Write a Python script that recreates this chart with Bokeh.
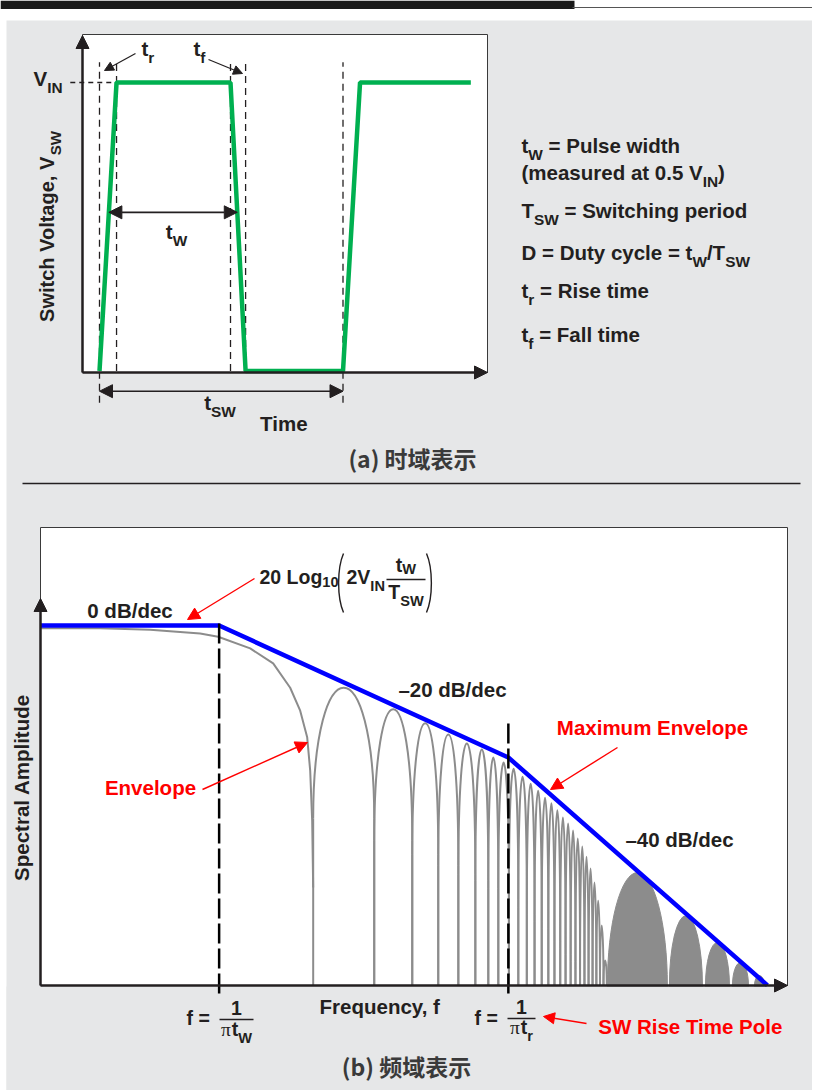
import math
from bokeh.plotting import figure
from bokeh.models import Range1d, LogScale, Arrow, NormalHead
from bokeh.core.properties import value
from bokeh.embed import file_html
from bokeh.resources import INLINE

# ---------------- (a) time domain data (time / T_SW, voltage / V_IN) ----------------
wave_t = [0.0, 0.070, 0.538, 0.600, 1.0, 1.070, 1.525]
wave_v = [0.0, 1.0, 1.0, 0.0, 0.0, 1.0, 1.0]

# ---------------- (b) frequency domain data (f / f1, f1 = 1/(pi tW); amplitude in dB) ----------------
env_f = [0.134, 1.0, 25.7, 471.0]
env_db = [0.0, 0.0, -28.2, -76.9]

main_f = [0.134, 0.263, 0.461, 0.808, 0.989, 1.417, 1.834, 2.220, 2.484, 2.687, 2.779, 2.842, 2.874]
main_db = [-0.6, -0.6, -0.9, -1.7, -2.4, -4.9, -8.1, -13.3, -18.2, -23.9, -31.0, -41.7, -56.0]

lobe_null_f = [2.874, 5.703, 8.739, 11.70, 14.66, 17.74, 20.52, 22.96, 25.86,
               28.74, 31.62, 34.49, 37.38, 40.26, 43.12, 46.02, 48.85, 51.72,
               54.59, 57.48, 60.40, 63.24, 66.15, 69.03, 71.89, 74.77, 77.61]
lobe_peak_db = [-13.3, -17.9, -20.9, -23.3, -25.2, -26.5, -28.2, -29.3,
                -30.6, -32.3, -33.8, -35.3, -36.8, -38.0, -39.5, -41.0, -42.3,
                -43.8, -45.5, -47.2, -49.4, -51.9, -54.9, -58.8, -64.1, -71.6]

hump_left_f = [78.1, 156.7, 234.9, 318.1, 407.2]
hump_right_f = [153.2, 227.1, 307.5, 380.6, 455.5]
hump_peak_db = [-52.8, -62.0, -67.7, -72.0, -74.8]

# ---------------- layout ----------------
W, H = 812, 1090
PX0, PX1, PY0, PY1 = 0, W, 0, H
T0_PX, PX_PER_T = 99.0, 243.5
V0_PY, PX_PER_V = 370.5, 288.5
F1_PX, PX_PER_DEC = 219.0, 205.0
DB0_PY, PX_PER_DB = 625.0, 4.68
AXIS_B_PY = 985.0
FLOOR_DB = (DB0_PY - AXIS_B_PY) / PX_PER_DB
DOME_DB = 28.0
ARROW_V = 0.55
TXT_FIX = 0.37   # renderer draws alphabetic text slightly low; compensate

INK = "#231f20"
RED = "#ff0000"
BLUE = "#0000ff"
GREEN = "#00b050"
GREY = "#8c8c8c"
BG = "#e6e7e8"

p = figure(width=W, height=H, x_range=Range1d(PX0, PX1), y_range=Range1d(PY1, PY0),
           output_backend="svg", toolbar_location=None,
           x_axis_location=None, y_axis_location=None, min_border=0,
           background_fill_color="white", border_fill_color="white", outline_line_color=None)
p.grid.visible = False

p.extra_x_ranges = {
    "t": Range1d((PX0 - T0_PX) / PX_PER_T, (PX1 - T0_PX) / PX_PER_T),
    "f": Range1d(10 ** ((PX0 + 0.5 - F1_PX) / PX_PER_DEC), 10 ** ((PX1 - F1_PX) / PX_PER_DEC)),
}
p.extra_y_ranges = {
    "v": Range1d((V0_PY - PY1) / PX_PER_V, (V0_PY - PY0) / PX_PER_V),
    "db": Range1d((DB0_PY - PY1) / PX_PER_DB, (DB0_PY - PY0) / PX_PER_DB),
}
p.extra_x_scales = {"f": LogScale()}
TV = dict(x_range_name="t", y_range_name="v")
FD = dict(x_range_name="f", y_range_name="db")

# ---------------- text helper (Arial/Liberation Sans Bold advance widths) ----------------
HB = {' ': 278, '(': 333, ')': 333, ',': 278, '-': 333, '.': 278, '/': 278, '=': 584, '–': 556, 'π': 549}
for c in "0123456789":
    HB[c] = 556
HB.update(dict(zip("ABCDEFGHIJKLMNOPQRSTUVWXYZ",
                   [722, 722, 722, 722, 667, 611, 778, 722, 278, 556, 722, 611, 833, 722, 778, 667, 778, 722, 667, 611, 722, 667, 944, 667, 667, 611])))
HB.update(dict(zip("abcdefghijklmnopqrstuvwxyz",
                   [556, 611, 556, 611, 556, 333, 611, 611, 278, 278, 556, 278, 889, 611, 611, 611, 611, 389, 556, 333, 611, 556, 778, 556, 556, 500])))
SUB = 0.75


def wid(s, size):
    return sum(HB.get(c, 556) for c in s) * size / 1000.0


def rich(x, y, parts, size=20.0, color=INK, align="left", drop=0.35, angle=0.0):
    sizes = [size * (SUB if sub else 1.0) for _, sub in parts]
    ws = [wid(t, s) for (t, _), s in zip(parts, sizes)]
    total = sum(ws)
    cur = {"left": 0.0, "center": -total / 2.0, "right": -total}[align]
    for (t, sub), s, w in zip(parts, sizes, ws):
        lead = len(t) - len(t.lstrip(" "))
        c0 = cur + wid(" " * lead, s)
        d = (size * drop if sub else 0.0) - TXT_FIX * s
        if angle == 0:
            px, py = x + c0, y + d
        else:
            px, py = x + d, y - c0
        greek = t.strip() == "π"
        p.text(x=[px], y=[py], text=[t.strip()],
               text_font=value("Liberation Serif" if greek else "Liberation Sans"),
               text_font_size=f"{s:.1f}px", text_font_style="normal" if greek else "bold",
               text_color=color, text_align="left", text_baseline="alphabetic", angle=angle)
        cur += w


def arrow(x0, y0, x1, y1, color=INK, lw=1.3, size=12, both=False, **kw):
    head = lambda: NormalHead(size=size, fill_color=color, line_color=color, line_width=1)
    p.add_layout(Arrow(x_start=x0, y_start=y0, x_end=x1, y_end=y1, end=head(),
                       start=head() if both else None, line_color=color, line_width=lw, **kw))


# ---------------- background & header ----------------
p.quad(left=[6], right=[PX1], top=[20], bottom=[PY1], fill_color=BG, line_color=None)
p.quad(left=[0], right=[574], top=[0], bottom=[8.5], fill_color="#1a1a1a", line_color=None)
p.segment(x0=[572], y0=[7], x1=[PX1], y1=[7], line_color="#555555", line_width=1.2)

# ================= (a) =================
p.quad(left=[82], right=[487], top=[34], bottom=[372], fill_color="white", line_color="#3a3a3a", line_width=1)

mark_t = [wave_t[0], wave_t[1], wave_t[2], wave_t[3], wave_t[4]]
mark_bot = [-0.11, 0.0, 0.0, 0.0, -0.11]
p.segment(x0=mark_t, y0=mark_bot, x1=mark_t, y1=[1.07] * 5, line_color=INK, line_width=1.3,
          line_dash="7 5", **TV)
p.segment(x0=[-0.12], y0=[wave_v[1]], x1=[wave_t[1]], y1=[wave_v[1]], line_color=INK,
          line_width=1.3, line_dash="5 4", **TV)
p.line(wave_t, wave_v, line_color=GREEN, line_width=4.5, **TV)

arrow(82, 372, 82, 35, lw=2.5, size=13)
arrow(82, 372, 487, 372, lw=2.5, size=13)

t_rise_mid = wave_t[0] + ARROW_V * (wave_t[1] - wave_t[0])
t_fall_mid = wave_t[2] + (1 - ARROW_V) * (wave_t[3] - wave_t[2])
arrow(t_rise_mid, ARROW_V, t_fall_mid, ARROW_V, lw=1.6, size=13, both=True, **TV)
arrow(wave_t[0], -0.07, wave_t[4], -0.07, lw=1.6, size=13, both=True, **TV)
arrow(135, 53, 104, 70, lw=1.2, size=9)
arrow(208, 59, 242, 73, lw=1.2, size=9)

rich(141, 56, [("t", 0), ("r", 1)], size=20.5)
rich(193, 56, [("t", 0), ("f", 1)], size=20.5)
rich(62, 86, [("V", 0), ("IN", 1)], size=20.5, align="right")
rich(176, 239, [("t", 0), ("W", 1)], size=20.5, align="center")
rich(219.5, 410, [("t", 0), ("SW", 1)], size=20.5, align="center")
rich(283.5, 431, [("Time", 0)], size=20.5, align="center")
rich(54, 226, [("Switch Voltage, V", 0), ("SW", 1)], align="center", angle=math.pi / 2)

LX = 521
rich(LX, 153, [("t", 0), ("W", 1), (" = Pulse width", 0)], size=20.5)
rich(LX, 180, [("(measured at 0.5 V", 0), ("IN", 1), (")", 0)], size=20.5)
rich(LX, 218, [("T", 0), ("SW", 1), (" = Switching period", 0)], size=20.5)
rich(LX, 260, [("D = Duty cycle = t", 0), ("W", 1), ("/T", 0), ("SW", 1)], size=20.5)
rich(LX, 298, [("t", 0), ("r", 1), (" = Rise time", 0)], size=20.5)
rich(LX, 342, [("t", 0), ("f", 1), (" = Fall time", 0)], size=20.5)

p.text(x=[412], y=[457], text=["(a) 时域表示"], text_font=value("Noto Sans CJK SC"),
       text_font_size="23px", text_font_style="bold", text_color="#3a3a3a",
       text_align="center", text_baseline="middle")

p.segment(x0=[22], y0=[483], x1=[800], y1=[483], line_color=INK, line_width=1.6)

# ================= (b) =================
p.quad(left=[40], right=[787], top=[527], bottom=[AXIS_B_PY], fill_color="white",
       line_color="#3a3a3a", line_width=1)

p.line(main_f, main_db, line_color=GREY, line_width=2, **FD)
lx, rx = lobe_null_f[:-1], lobe_null_f[1:]
depth = [min(DOME_DB, pk - FLOOR_DB) for pk in lobe_peak_db]
shoulder = [pk - d for pk, d in zip(lobe_peak_db, depth)]
ctrl = [pk + d / 3.0 for pk, d in zip(lobe_peak_db, depth)]
p.bezier(x0=lx, y0=shoulder, x1=rx, y1=shoulder, cx0=lx, cy0=ctrl, cx1=rx, cy1=ctrl,
         line_color=GREY, line_width=2, **FD)
p.segment(x0=lx + rx, y0=[FLOOR_DB] * (2 * len(lx)), x1=lx + rx, y1=shoulder + shoulder,
          line_color=GREY, line_width=2, **FD)

hx = [math.sqrt(a * b) for a, b in zip(hump_left_f, hump_right_f)]
hw = [PX_PER_DEC * math.log10(b / a) for a, b in zip(hump_left_f, hump_right_f)]
hh = [2 * (pk - FLOOR_DB) for pk in hump_peak_db]
p.ellipse(x=hx, y=[FLOOR_DB] * len(hx), width=hw, height=hh, width_units="screen",
          height_units="data", fill_color=GREY, line_color=GREY, line_width=1, **FD)

# cover the lower halves below the frequency axis
p.quad(left=[6], right=[PX1], top=[AXIS_B_PY + 1], bottom=[PY1], fill_color=BG, line_color=None)

p.line(env_f, env_db, line_color=BLUE, line_width=4.5, **FD)
p.segment(x0=[env_f[1], env_f[2]], y0=[FLOOR_DB - 8 / PX_PER_DB] * 2,
          x1=[env_f[1], env_f[2]], y1=[env_db[1] + 1.3, env_db[2] + 7.5],
          line_color="black", line_width=2.5, line_dash="20 5", **FD)

arrow(40, AXIS_B_PY, 40, 598, lw=2.5, size=13)
arrow(40, AXIS_B_PY, 787, AXIS_B_PY, lw=2.5, size=13)

arrow(254, 578, 187, 619, color=RED, lw=1.4, size=12)
arrow(202, 789, 307, 742, color=RED, lw=1.4, size=12)
arrow(617, 747, 550, 789, color=RED, lw=1.4, size=12)
arrow(586, 1023, 543, 1016, color=RED, lw=1.4, size=11)

rich(129.5, 618, [("0 dB/dec", 0)], size=20.5, align="center")
rich(452, 697, [("–20 dB/dec", 0)], size=20.5, align="center")
rich(679, 847, [("–40 dB/dec", 0)], size=20.5, align="center")
rich(652, 735, [("Maximum Envelope", 0)], size=20.5, align="center", color=RED)
rich(150, 795, [("Envelope", 0)], size=20.5, align="center", color=RED)
rich(690, 1034, [("SW Rise Time Pole", 0)], size=20.5, align="center", color=RED)
rich(380, 1014, [("Frequency, f", 0)], size=20.5, align="center")
rich(29, 787, [("Spectral Amplitude", 0)], size=20.5, align="center", angle=math.pi / 2)

# formula 20 Log10(2 V_IN tW / TSW)
rich(259, 584, [("20 Log", 0), ("10", 1)], size=19.5, drop=0.15)
rich(346, 584, [("2V", 0), ("IN", 1)], size=19.5)
rich(405.5, 572, [("t", 0), ("W", 1)], size=19.5, align="center", drop=0.12)
rich(405.5, 599, [("T", 0), ("SW", 1)], size=19.5, align="center")
p.segment(x0=[386], y0=[579], x1=[425], y1=[579], line_color=INK, line_width=1.5)
p.bezier(x0=[343, 426], y0=[553, 553], x1=[343, 426], y1=[612, 612],
         cx0=[336.5, 432.5], cy0=[568, 568], cx1=[336.5, 432.5], cy1=[597, 597],
         line_color=INK, line_width=1.4)

# f = 1/(pi tW), f = 1/(pi tr)
rich(186, 1025, [("f =", 0)], size=19.5)
rich(236, 1015, [("1", 0)], size=19.5, align="center")
p.segment(x0=[219], y0=[1019], x1=[253], y1=[1019], line_color=INK, line_width=1.5)
rich(236, 1036, [("π", 0), ("t", 0), ("W", 1)], size=19.5, align="center")

rich(474, 1025, [("f =", 0)], size=19.5)
rich(521, 1014, [("1", 0)], size=19.5, align="center")
p.segment(x0=[507], y0=[1018], x1=[535], y1=[1018], line_color=INK, line_width=1.5)
rich(521, 1034, [("π", 0), ("t", 0), ("r", 1)], size=19.5, align="center")

p.text(x=[406], y=[1065], text=["(b) 频域表示"], text_font=value("Noto Sans CJK SC"),
       text_font_size="23px", text_font_style="bold", text_color="#3a3a3a",
       text_align="center", text_baseline="middle")

open("out.html", "w").write(file_html(p, INLINE))
